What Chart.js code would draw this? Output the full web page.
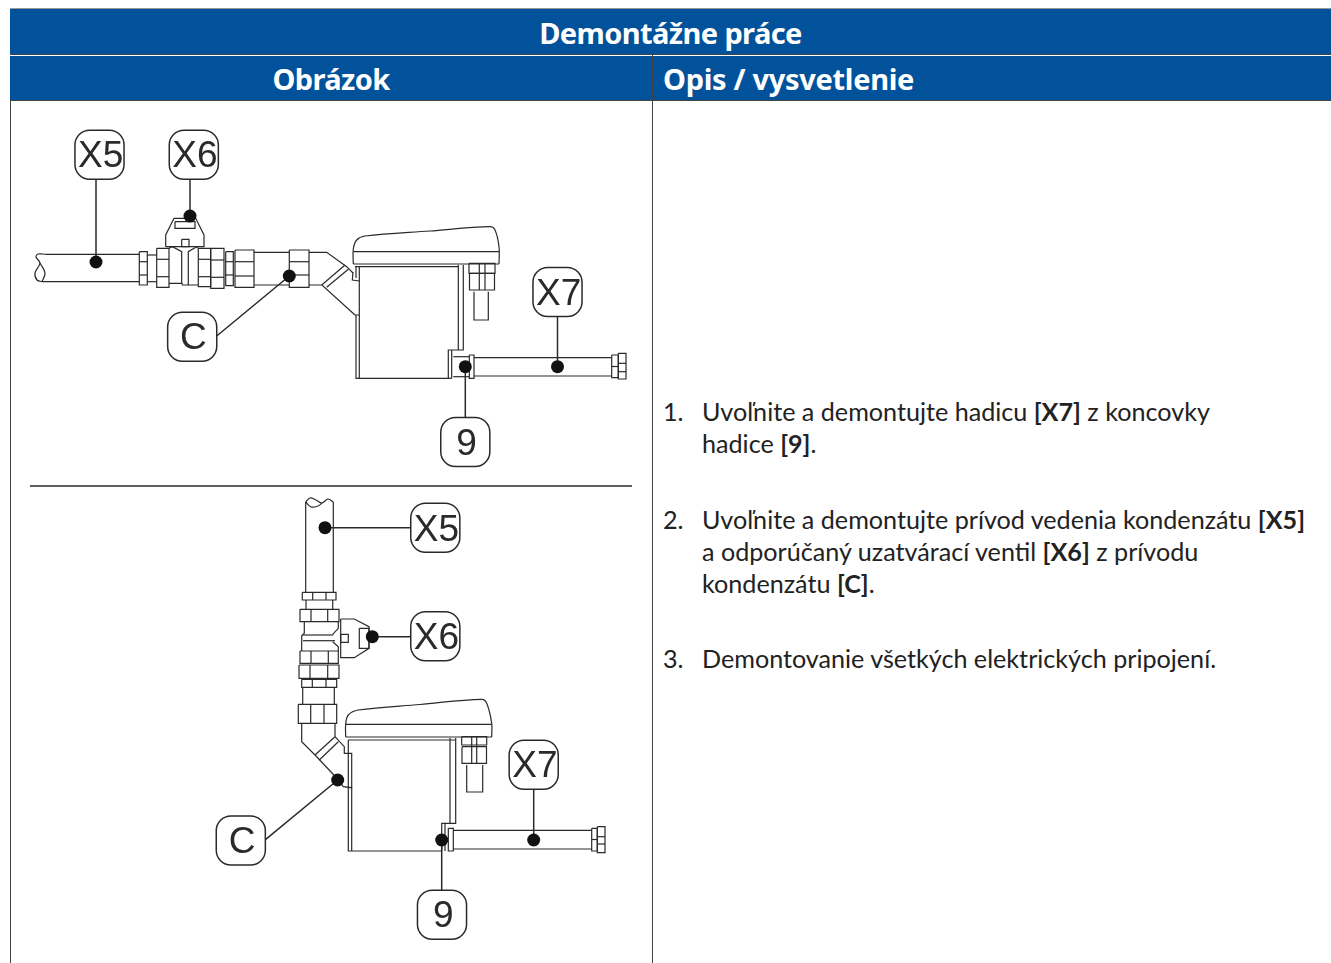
<!DOCTYPE html>
<html lang="sk">
<head>
<meta charset="utf-8">
<title>Demontážne práce</title>
<script src="https://cdn.jsdelivr.net/npm/chart.js@4"></script>
<style>
    html, body { margin: 0; padding: 0; background: #fff; overflow: hidden; }
    #page { position: relative; width: 1331px; height: 963px; overflow: hidden; }
    #page canvas { position: absolute; left: 0; top: 0; }
    .band { position: absolute; background: #02529b; color: #fff; font-family: "Noto Sans", sans-serif; font-weight: 700; font-size: 29px; line-height: 45px; white-space: nowrap; letter-spacing: -0.6px; }
    .rule { position: absolute; background: #444; }
    .step { position: absolute; left: 702px; font-family: Lato, sans-serif; font-size: 25.15px; line-height: 32px; color: #222; white-space: nowrap; }
    .num { position: absolute; left: 663px; font-family: Lato, sans-serif; font-size: 25.15px; line-height: 32px; color: #222; }
</style>
</head>
<body>
<div id="page">
    <div class="band" style="left:10px;top:9px;width:1321px;height:45px;text-align:center;line-height:47px;">Demontážne práce</div>
    <div class="band" style="left:10px;top:56px;width:642px;height:44px;text-align:center;">Obrázok</div>
    <div class="band" style="left:653px;top:56px;width:668px;height:44px;padding-left:10px;letter-spacing:-0.3px;">Opis / vysvetlenie</div>
    <div class="rule" style="left:10px;top:8px;width:1321px;height:1px;background:#999;"></div>
    <div class="rule" style="left:10px;top:54px;width:1321px;height:1px;"></div>
    <div class="rule" style="left:10px;top:100px;width:1321px;height:1px;"></div>
    <div class="rule" style="left:10px;top:101px;width:1px;height:862px;"></div>
    <div class="rule" style="left:652px;top:55px;width:1px;height:908px;"></div>

    <div class="num" style="top:395px;">1.</div>
    <div class="step" style="top:395px;">Uvoľnite a demontujte hadicu <b>[X7]</b> z koncovky</div>
    <div class="step" style="top:427px;">hadice <b>[9]</b>.</div>
    <div class="num" style="top:503px;">2.</div>
    <div class="step" style="top:503px;">Uvoľnite a demontujte prívod vedenia kondenzátu <b>[X5]</b></div>
    <div class="step" style="top:535px;">a odporúčaný uzatvárací ventil <b>[X6]</b> z prívodu</div>
    <div class="step" style="top:567px;">kondenzátu <b>[C]</b>.</div>
    <div class="num" style="top:642px;">3.</div>
    <div class="step" style="top:642px;">Demontovanie všetkých elektrických pripojení.</div>

    <canvas id="drawing" width="1331" height="963"></canvas>
</div>

<script>
// Callout bubbles and the dots their leaders end on
const calloutLabels = ['X5', 'X6', 'C', 'X7', '9', 'X5', 'X6', 'C', 'X7', '9'];
const calloutX = [99.5, 193.8, 192.2, 557.5, 465.3, 435.3, 435.3, 240.8, 533.7, 442];
const calloutY = [154.7, 154.7, 336.7, 292, 442, 527.8, 636.3, 840.5, 764.7, 914.7];
const dotX = [96, 190, 289.3, 557.5, 465.3, 325, 372.3, 337.7, 533.7, 441.7];
const dotY = [262, 216, 276, 366.7, 366.7, 527.7, 636.7, 780, 840, 840];
const leaderEndX = [96, 190, 216.7, 557.5, 465.3, 410.7, 410.7, 265.7, 533.7, 441.7];
const leaderEndY = [179, 179, 336, 316.7, 417, 527.7, 636.7, 839.3, 789, 890];

// Table rule between the two drawings
const dividerLine = [[30, 486], [632, 486]];

// Upper drawing: [left, top, right, bottom]
const upperBoxes = [
    [139.3, 251.7, 147.3, 285], [156.7, 248.3, 169, 287.3], [198.3, 248.3, 210.7, 286.7],
    [210.7, 248.3, 224, 288.3], [225.7, 251.7, 233.3, 285.7], [235, 250, 254, 287.3],
    [289.3, 250, 309, 287.3], [175, 221.7, 195, 228.3], [181.7, 239.3, 189, 246.7],
    [469, 263.3, 495, 273.3], [469.5, 273.3, 494.5, 290], [469.3, 355, 474, 378.3],
    [611.7, 355, 618.3, 377.7], [618.3, 353.3, 626, 379]
];
const upperStrokes = [
    [[42, 281.7], [139, 281.7]], [[46, 254.3], [139, 254.3]],
    [[147.3, 255], [156.7, 255]], [[147.3, 281.7], [156.7, 281.7]],
    [[139.3, 261.7], [147.3, 261.7]], [[139.3, 275], [147.3, 275]],
    [[156.7, 259.3], [169, 259.3]], [[156.7, 276.7], [169, 276.7]],
    [[198.3, 259.3], [210.7, 259.3]], [[198.3, 276.7], [210.7, 276.7]],
    [[210.7, 260], [224, 260]], [[210.7, 277.3], [224, 277.3]],
    [[225.7, 261.7], [233.3, 261.7]], [[225.7, 275], [233.3, 275]],
    [[235, 261.7], [254, 261.7]], [[235, 276], [254, 276]],
    [[254, 252.3], [289.3, 252.3]], [[254, 285], [289.3, 285]],
    [[289.3, 261.7], [309, 261.7]], [[289.3, 275], [309, 275]],
    // valve body and handle
    [[169, 248.3], [172.5, 246.7], [181.7, 251.7], [181.7, 283.3], [169, 283.3]],
    [[198.3, 248.3], [196.7, 246.7], [188.3, 251.7], [188.3, 285], [198.3, 285]],
    [[181.7, 283.3], [182.5, 285], [188.3, 285]],
    [[165.7, 246.7], [165.7, 235], [174, 218.3], [195.7, 218.3], [204, 235], [204, 246.7], [165.7, 246.7]],
    // elbow
    [[309, 252.3], [326.7, 252.3], [346.7, 266.7], [353, 273]],
    [[309, 285], [322, 285], [355, 315]],
    [[321.7, 285], [345, 265]], [[326.7, 287.3], [348.3, 269.3]],
    [[353, 272], [352.3, 280], [359.3, 281], [359.3, 315], [355, 315]],
    // tank
    [[353.3, 264], [499, 264]], [[353.3, 251.7], [499, 251.7]], [[355, 266.7], [458.3, 266.7]],
    [[356, 315], [356, 378.3], [451.7, 378.3]], [[359.3, 315], [359.3, 378.3]],
    [[356, 266], [356, 278]], [[359.3, 266], [359.3, 281]],
    [[458.3, 265], [458.3, 350]], [[463.3, 265], [463.3, 350], [448.3, 350], [448.3, 378.3]],
    [[451.7, 350], [451.7, 378.3]],
    [[479.3, 263.3], [479.3, 290]], [[485, 263.3], [485, 290]],
    [[474, 291.7], [474, 320], [488.3, 320], [488.3, 291.7]],
    // hose
    [[453.3, 356.7], [469.3, 356.7]], [[453.3, 376.7], [469.3, 376.7]],
    [[474, 357.7], [611.7, 357.7]], [[474, 376], [611.7, 376]],
    [[611.7, 366.5], [618.3, 366.5]], [[618.3, 363.3], [626, 363.3]], [[618.3, 371.7], [626, 371.7]]
];
const upperCurves = [
    [[46, 254.3], [38, 254], [36, 257], [40, 263], [35, 273], [37, 280], [42, 281.7]],
    [[42, 281.7], [45, 273], [40, 263]],
    [[353.3, 264], [353.3, 249], [356.7, 240], [365, 236], [430, 231], [490, 226.7], [495, 230], [499, 246.7], [499, 264]]
];

// Lower drawing, same layout
const lowerBoxes = [
    [302.3, 592.3, 336, 600], [300, 609.3, 339, 621.7], [300, 651, 338.3, 663.3],
    [299, 665, 339, 678.3], [301.7, 679.3, 336.7, 687.3], [298.3, 704.3, 336.7, 723.3],
    [340.7, 634.3, 348.3, 642.3], [359.3, 628.3, 369, 648.3],
    [461.7, 736.7, 486.7, 745], [462, 746.7, 486.5, 763.3],
    [448.3, 828.3, 453.3, 851], [591.7, 828.3, 597.3, 851], [597.3, 826.7, 605, 852.7]
];
const lowerStrokes = [
    [[305.7, 502], [305.7, 592.3]], [[333.3, 502], [333.3, 592.3]],
    [[312.7, 592.3], [312.7, 600]], [[326, 592.3], [326, 600]],
    [[306, 600], [306, 609.3]], [[332.7, 600], [332.7, 609.3]],
    [[311, 609.3], [311, 621.7]], [[327.7, 609.3], [327.7, 621.7]],
    // valve body and handle
    [[304.3, 621.7], [304.3, 633.3], [301.7, 635.7], [301.7, 651]],
    [[303, 635], [333.3, 635]], [[303, 640.7], [335, 640.7]],
    [[338.3, 621.7], [338.3, 628.3], [332.7, 634.3]], [[332.7, 641.7], [338.3, 646.7], [338.3, 651]],
    [[340.7, 619], [354.3, 619], [369, 626.7], [369, 648.3], [354.3, 657.7], [340.7, 657.7], [340.7, 619]],
    [[311, 651], [311, 663.3]], [[328.3, 651], [328.3, 663.3]],
    [[310, 665], [310, 678.3]], [[327.7, 665], [327.7, 678.3]],
    [[312.3, 679.3], [312.3, 687.3]], [[326, 679.3], [326, 687.3]],
    [[302.7, 687.3], [302.7, 704.3]], [[334.3, 687.3], [334.3, 704.3]],
    [[310.7, 704.3], [310.7, 723.3]], [[324, 704.3], [324, 723.3]],
    // elbow
    [[301.7, 723.3], [301.7, 741.7], [315, 755]], [[335, 723.3], [335, 736.7]],
    [[315, 755], [335, 736.7]], [[319.3, 760], [338.3, 741.7]],
    [[315, 755], [336.7, 778]],
    [[335, 736.7], [344.3, 746.7], [344.3, 753.3], [351.7, 753.3], [351.7, 787.7], [343.3, 786.7], [336.7, 778]],
    // tank
    [[345.7, 737], [491.7, 737]], [[345.7, 724.3], [491.7, 724.3]], [[348, 740], [455, 740]],
    [[348.3, 740], [348.3, 851], [441.7, 851]], [[351.7, 787.7], [351.7, 851]],
    [[450, 738], [450, 823.3]], [[455.7, 738], [455.7, 823.3], [441.7, 823.3], [441.7, 851]],
    [[445, 823.3], [445, 851]],
    [[471.7, 736.7], [471.7, 763.3]], [[476.7, 736.7], [476.7, 763.3]],
    [[466.7, 765], [466.7, 792], [482.7, 792], [482.7, 765]],
    // hose
    [[453.3, 830.3], [591.7, 830.3]], [[453.3, 849], [591.7, 849]],
    [[591.7, 839.5], [597.3, 839.5]], [[597.3, 836.7], [605, 836.7]], [[597.3, 844], [605, 844]]
];
const lowerCurves = [
    [[305.7, 502], [310, 498], [316, 500], [322, 503], [328, 499], [333.3, 502]],
    [[305.7, 502], [311, 507], [318, 506], [322, 503]],
    [[345.7, 737], [345.7, 724], [348.3, 715], [358.3, 710], [420, 704.5], [481.7, 699.3], [486.7, 703.3], [491.7, 723.3], [491.7, 737]]
];

const inkColor = '#2b2a29';

const toPoints = (list) => list.map(([x, y]) => ({ x, y }));
const boxOutline = ([l, t, r, b]) => [[l, t], [r, t], [r, b], [l, b], [l, t]];

const lineDataset = (points, tension = 0, width = 1.2) => ({
    type: 'scatter',
    data: toPoints(points),
    showLine: true,
    fill: false,
    tension,
    borderColor: inkColor,
    borderWidth: width,
    pointRadius: 0
});

const datasets = [
    // bubbles first, the first dataset ends up on top
    {
        type: 'scatter',
        data: calloutX.map((x, i) => ({ x, y: calloutY[i] })),
        pointStyle: 'rectRounded',
        pointRadius: 28.6,
        pointBackgroundColor: '#fff',
        pointBorderColor: inkColor,
        pointBorderWidth: 1.5
    },
    {
        type: 'scatter',
        data: dotX.map((x, i) => ({ x, y: dotY[i] })),
        pointStyle: 'circle',
        pointRadius: 6.5,
        pointBackgroundColor: '#111',
        pointBorderWidth: 0
    },
    ...dotX.map((x, i) => lineDataset([[x, dotY[i]], [leaderEndX[i], leaderEndY[i]]], 0, 1.5)),
    lineDataset(dividerLine, 0, 1.3),
    ...[...upperBoxes, ...lowerBoxes].map((b) => lineDataset(boxOutline(b))),
    ...[...upperStrokes, ...lowerStrokes].map((s) => lineDataset(s)),
    ...[...upperCurves, ...lowerCurves].map((c) => lineDataset(c, 0.35))
];

// Writes the letters into the bubbles
const calloutText = {
    id: 'calloutText',
    afterDatasetsDraw(chart) {
        const { ctx, scales } = chart;
        ctx.save();
        ctx.font = '37px "Liberation Sans", Arial, sans-serif';
        ctx.fillStyle = '#2b2a29';
        ctx.textAlign = 'center';
        ctx.textBaseline = 'middle';
        calloutLabels.forEach((label, i) => {
            ctx.fillText(label, scales.x.getPixelForValue(calloutX[i]) + 1.2, scales.y.getPixelForValue(calloutY[i]) + 2.5);
        });
        ctx.restore();
    }
};

new Chart(document.getElementById('drawing').getContext('2d'), {
    type: 'scatter',
    data: { datasets },
    plugins: [calloutText],
    options: {
        responsive: false,
        animation: false,
        layout: { padding: 0, autoPadding: false },
        plugins: { legend: { display: false }, tooltip: { enabled: false }, title: { display: false } },
        scales: {
            x: { type: 'linear', display: false, min: 0, max: 1331 },
            y: { type: 'linear', display: false, min: 0, max: 963, reverse: true }
        }
    }
});
</script>
</body>
</html>
